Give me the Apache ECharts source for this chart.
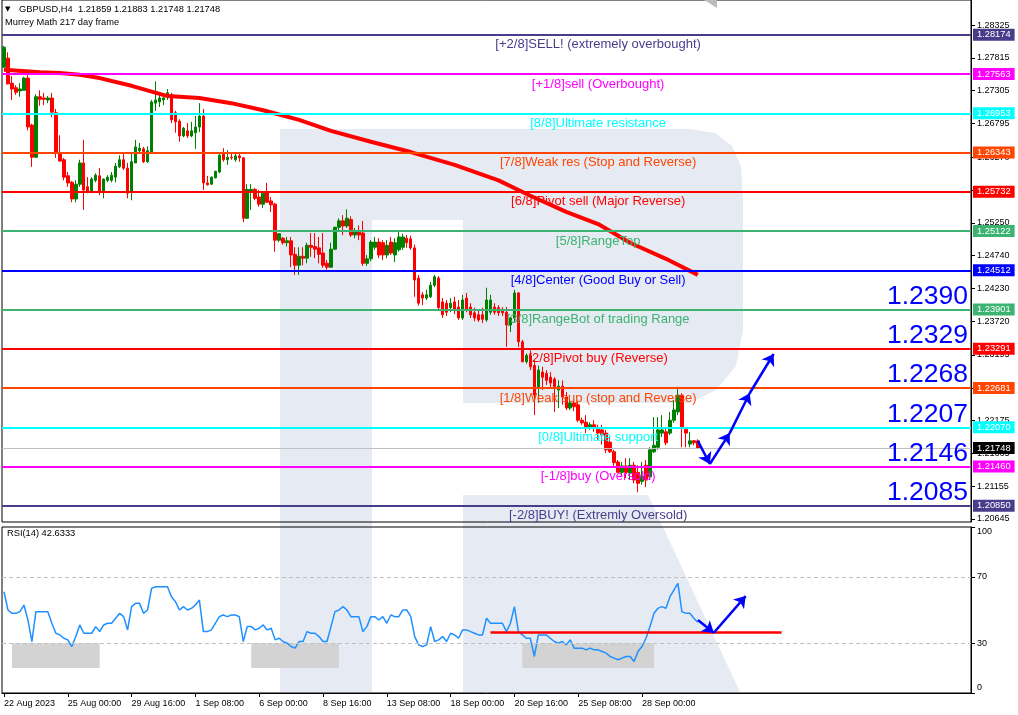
<!DOCTYPE html>
<html><head><meta charset="utf-8">
<script src="https://cdn.jsdelivr.net/npm/echarts@6/dist/echarts.min.js"></script>
<style>html,body{margin:0;padding:0;background:#fff}#c{width:1018px;height:715px}</style>
</head><body><div id="c"></div>
<script>
const headerText = 'GBPUSD,H4  1.21859 1.21883 1.21748 1.21748';
const indicatorTitle = 'Murrey Math 217 day frame';
const rsiTitle = 'RSI(14) 42.6333';

// H4 candles, 22 Aug 2023 08:00 onwards: [open, close, low, high]
const candles = [
[1.2767,1.2798,1.2766,1.2800],[1.2781,1.2741,1.2740,1.2790],[1.2742,1.2733,1.2716,1.2753],[1.2735,1.2728,1.2724,1.2739],
[1.2730,1.2733,1.2721,1.2742],[1.2731,1.2750,1.2731,1.2752],[1.2750,1.2674,1.2669,1.2763],[1.2677,1.2627,1.2612,1.2679],
[1.2627,1.2721,1.2626,1.2725],[1.2721,1.2717,1.2707,1.2731],[1.2719,1.2717,1.2708,1.2727],[1.2716,1.2719,1.2711,1.2722],
[1.2719,1.2697,1.2689,1.2727],[1.2696,1.2633,1.2626,1.2702],[1.2633,1.2621,1.2620,1.2661],[1.2623,1.2596,1.2591,1.2626],
[1.2598,1.2587,1.2581,1.2604],[1.2588,1.2562,1.2557,1.2590],[1.2562,1.2585,1.2557,1.2591],[1.2585,1.2618,1.2581,1.2623],
[1.2618,1.2576,1.2545,1.2654],[1.2581,1.2573,1.2571,1.2596],[1.2574,1.2593,1.2571,1.2596],[1.2591,1.2599,1.2588,1.2602],
[1.2598,1.2573,1.2568,1.2610],[1.2574,1.2593,1.2563,1.2594],[1.2591,1.2596,1.2588,1.2599],[1.2591,1.2599,1.2588,1.2604],
[1.2596,1.2613,1.2588,1.2618],[1.2612,1.2623,1.2610,1.2630],[1.2623,1.2610,1.2607,1.2633],[1.2610,1.2571,1.2563,1.2618],
[1.2573,1.2620,1.2560,1.2633],[1.2618,1.2643,1.2618,1.2654],[1.2637,1.2641,1.2633,1.2649],[1.2640,1.2620,1.2618,1.2643],
[1.2620,1.2637,1.2618,1.2644],[1.2635,1.2713,1.2634,1.2716],[1.2711,1.2716,1.2699,1.2745],[1.2713,1.2719,1.2705,1.2724],
[1.2716,1.2719,1.2708,1.2724],[1.2721,1.2727,1.2716,1.2733],[1.2724,1.2685,1.2680,1.2727],[1.2696,1.2682,1.2665,1.2699],
[1.2683,1.2660,1.2651,1.2686],[1.2660,1.2672,1.2658,1.2674],[1.2668,1.2660,1.2657,1.2680],[1.2660,1.2668,1.2658,1.2682],
[1.2665,1.2674,1.2640,1.2691],[1.2674,1.2691,1.2666,1.2711],[1.2691,1.2587,1.2576,1.2702],[1.2587,1.2584,1.2583,1.2598],
[1.2585,1.2596,1.2584,1.2597],[1.2595,1.2605,1.2594,1.2606],[1.2604,1.2630,1.2602,1.2632],[1.2633,1.2623,1.2620,1.2641],
[1.2623,1.2627,1.2615,1.2638],[1.2627,1.2626,1.2623,1.2632],[1.2623,1.2629,1.2620,1.2632],[1.2629,1.2626,1.2620,1.2633],
[1.2626,1.2532,1.2526,1.2627],[1.2532,1.2577,1.2531,1.2585],[1.2574,1.2577,1.2545,1.2585],[1.2577,1.2563,1.2560,1.2579],
[1.2565,1.2554,1.2550,1.2576],[1.2554,1.2571,1.2548,1.2574],[1.2573,1.2557,1.2556,1.2587],[1.2559,1.2553,1.2542,1.2565],
[1.2554,1.2498,1.2480,1.2556],[1.2498,1.2508,1.2495,1.2509],[1.2501,1.2494,1.2491,1.2503],[1.2494,1.2497,1.2488,1.2503],
[1.2497,1.2475,1.2456,1.2503],[1.2476,1.2459,1.2444,1.2487],[1.2459,1.2473,1.2444,1.2487],[1.2473,1.2470,1.2459,1.2487],
[1.2470,1.2490,1.2462,1.2494],[1.2490,1.2487,1.2472,1.2509],[1.2488,1.2484,1.2470,1.2509],[1.2486,1.2476,1.2462,1.2503],
[1.2478,1.2459,1.2455,1.2509],[1.2462,1.2456,1.2452,1.2467],[1.2456,1.2484,1.2455,1.2494],[1.2484,1.2518,1.2483,1.2519],
[1.2518,1.2528,1.2512,1.2532],[1.2528,1.2520,1.2506,1.2537],[1.2520,1.2532,1.2517,1.2546],[1.2530,1.2506,1.2503,1.2535],
[1.2506,1.2511,1.2501,1.2517],[1.2511,1.2506,1.2498,1.2521],[1.2509,1.2462,1.2458,1.2528],[1.2462,1.2469,1.2458,1.2475],
[1.2469,1.2495,1.2465,1.2498],[1.2487,1.2495,1.2483,1.2503],[1.2495,1.2475,1.2470,1.2501],[1.2494,1.2475,1.2467,1.2498],
[1.2475,1.2490,1.2470,1.2498],[1.2495,1.2478,1.2475,1.2503],[1.2475,1.2494,1.2464,1.2501],[1.2483,1.2503,1.2480,1.2511],
[1.2487,1.2503,1.2483,1.2508],[1.2501,1.2494,1.2486,1.2506],[1.2500,1.2486,1.2483,1.2505],[1.2486,1.2436,1.2410,1.2491],
[1.2439,1.2400,1.2396,1.2444],[1.2413,1.2408,1.2397,1.2417],[1.2408,1.2413,1.2405,1.2421],[1.2410,1.2428,1.2408,1.2433],
[1.2428,1.2441,1.2425,1.2444],[1.2439,1.2393,1.2389,1.2442],[1.2402,1.2382,1.2377,1.2408],[1.2400,1.2386,1.2380,1.2405],
[1.2393,1.2400,1.2386,1.2408],[1.2402,1.2389,1.2383,1.2410],[1.2394,1.2377,1.2374,1.2405],[1.2377,1.2405,1.2374,1.2413],
[1.2408,1.2389,1.2386,1.2416],[1.2394,1.2382,1.2377,1.2400],[1.2385,1.2377,1.2372,1.2393],[1.2382,1.2374,1.2371,1.2389],
[1.2382,1.2375,1.2369,1.2393],[1.2374,1.2405,1.2371,1.2424],[1.2386,1.2405,1.2382,1.2413],[1.2394,1.2386,1.2382,1.2400],
[1.2393,1.2385,1.2380,1.2397],[1.2389,1.2385,1.2380,1.2394],[1.2386,1.2366,1.2332,1.2394],[1.2366,1.2377,1.2355,1.2379],
[1.2377,1.2416,1.2371,1.2421],[1.2416,1.2340,1.2332,1.2417],[1.2340,1.2309,1.2308,1.2343],[1.2309,1.2319,1.2306,1.2322],
[1.2319,1.2301,1.2296,1.2327],[1.2303,1.2257,1.2226,1.2312],[1.2268,1.2296,1.2245,1.2303],[1.2293,1.2285,1.2265,1.2301],
[1.2291,1.2280,1.2273,1.2296],[1.2285,1.2276,1.2268,1.2293],[1.2282,1.2270,1.2231,1.2285],[1.2265,1.2271,1.2237,1.2280],
[1.2271,1.2254,1.2242,1.2280],[1.2254,1.2237,1.2234,1.2262],[1.2237,1.2245,1.2234,1.2251],[1.2245,1.2239,1.2232,1.2249],
[1.2242,1.2218,1.2215,1.2247],[1.2218,1.2214,1.2211,1.2222],[1.2215,1.2207,1.2198,1.2226],[1.2207,1.2211,1.2203,1.2215],
[1.2211,1.2206,1.2200,1.2218],[1.2204,1.2198,1.2187,1.2211],[1.2203,1.2195,1.2180,1.2211],[1.2198,1.2172,1.2167,1.2203],
[1.2184,1.2169,1.2167,1.2192],[1.2169,1.2152,1.2145,1.2172],[1.2153,1.2137,1.2136,1.2156],[1.2137,1.2147,1.2131,1.2153],
[1.2147,1.2137,1.2128,1.2159],[1.2136,1.2148,1.2125,1.2159],[1.2148,1.2125,1.2120,1.2153],[1.2137,1.2120,1.2106,1.2148],
[1.2123,1.2131,1.2118,1.2153],[1.2148,1.2125,1.2114,1.2156],[1.2130,1.2172,1.2125,1.2176],[1.2169,1.2179,1.2167,1.2223],
[1.2176,1.2203,1.2172,1.2223],[1.2198,1.2203,1.2192,1.2226],[1.2200,1.2183,1.2179,1.2206],[1.2198,1.2218,1.2195,1.2231],
[1.2218,1.2234,1.2214,1.2249],[1.2231,1.2257,1.2226,1.2270],[1.2257,1.2207,1.2176,1.2260],[1.2204,1.2198,1.2176,1.2207],
[1.2181,1.2186,1.2176,1.2200],[1.2186,1.2183,1.2179,1.2187],[1.21859,1.21748,1.21748,1.21883]
];
const futureBars = 68;

// RSI(14), one value per candle
const rsi = [
61,50,48,48,49,53,44,31,49,49,49,49,42,36,35,33,32,28,34,41,
36,36,36,40,37,41,42,42,45,48,46,38,52,54,54,48,50,63,64,64,
64,64,58,55,50,52,50,51,53,56,37,37,38,42,46,47,46,47,47,46,
31,40,40,38,39,41,38,39,32,33,31,30,28,27,31,31,37,36,36,34,
31,31,40,49,50,52,50,46,46,46,37,40,46,46,44,46,42,47,46,46,
50,50,46,34,29,28,29,40,31,32,34,31,36,35,33,38,38,37,36,35,
35,45,42,42,42,42,37,42,52,37,35,33,33,22,35,35,35,33,31,30,
31,29,32,27,27,27,26,27,26,26,25,24,22,21,20,21,22,22,19,25,
28,33,40,48,51,52,51,58,62,66,49,48,48,45,42.6
];

// moving average (bar index, price) read at its bends
const maPoints = [[0,1.2763],[9,1.2759],[14,1.2758],[19,1.2755],[24,1.2750],[32,1.2738],[41,1.2722],[49,1.2719],
[57,1.2711],[65,1.2700],[74,1.2685],[82,1.2668],[92,1.2651],[102,1.2635],[113,1.2615],[124,1.2591],[132,1.2567],
[141,1.2542],[149,1.2523],[157,1.2494],[166,1.2469],[174,1.2444]];

const levelValues = [1.28174,1.27563,1.26953,1.26343,1.25732,1.25122,1.24512,1.23901,1.23291,1.22681,1.22070,1.21460,1.20850];
const levelNames = ['[+2/8]SELL! (extremely overbought)','[+1/8]sell (Overbought)','[8/8]Ultimate resistance',
'[7/8]Weak res (Stop and Reverse)','[6/8]Pivot sell (Major Reverse)','[5/8]RangeTop','[4/8]Center (Good Buy or Sell)',
'[3/8]RangeBot of trading Range','[2/8]Pivot buy (Reverse)','[1/8]Weak sup (stop and Reverse)','[0/8]Ultimate support',
'[-1/8]buy (Oversold)','[-2/8]BUY! (Extremly Oversold)'];
const levelColors = ['#483D8B','#FF00FF','#00FFFF','#FF4500','#FF0000','#3CB371','#0000FF','#3CB371','#FF0000','#FF4500','#00FFFF','#FF00FF','#483D8B'];
const bigLabels = ['1.2390','1.2329','1.2268','1.2207','1.2146','1.2085'];
const bigLabelLevels = [1.23901,1.23291,1.22681,1.22070,1.21460,1.20850];
const currentPrice = 1.21748;

const priceTicks = [1.28325,1.27815,1.27305,1.26795,1.26270,1.25760,1.25250,1.24740,1.24230,1.23720,1.23195,1.22685,1.22175,1.21665,1.21155,1.20645];
const rsiTicks = [0,30,70,100];
const rsiLevels = [70,30];
const timeLabels = ['22 Aug 2023','25 Aug 00:00','29 Aug 16:00','1 Sep 08:00','6 Sep 00:00','8 Sep 16:00','13 Sep 08:00','18 Sep 00:00','20 Sep 16:00','25 Sep 08:00','28 Sep 00:00'];
const timeLabelStep = 16;

const priceArrowPts = [[174,1.2186],[177,1.2150],[182,1.2198],[187,1.2260],[193,1.2321]];
const rsiArrowPts = [[174,44],[178,36.3],[186,58.4]];
const rsiSupport = [[122,36.3],[195,36.3]];
const rsiZones = [[2,24],[62,84],[130,163]];
const rsiZoneRange = [30,15];

// ---------- layout / style ----------
const FONT = "'Liberation Sans', Arial, sans-serif";
const N = candles.length + futureBars;
const cats = Array.from({length: N}, (_, i) => String(i));
const levelTextIdx = 149;
const priceMin = 1.20598, priceMax = 1.28714;

const chart = echarts.init(document.getElementById('c'));

const tickFn = (idx) => idx % timeLabelStep === 0 && idx / timeLabelStep < timeLabels.length;

const boxLabel = (v, bg) => ({show: true, position: 'end', distance: 2, formatter: v.toFixed(5), backgroundColor: bg,
  color: '#fff', padding: [2, 4, 1, 4], fontSize: 9.3, fontFamily: FONT});
const levelLines = levelValues.map((v, k) => ({
  yAxis: v,
  lineStyle: {color: levelColors[k], width: 2, type: 'solid'},
  label: boxLabel(v, levelColors[k])
}));
levelLines.push({
  yAxis: currentPrice,
  lineStyle: {color: '#C0C0C0', width: 1, type: 'solid'},
  label: boxLabel(currentPrice, '#000')
});

const levelTexts = levelNames.map((t, k) => ({
  coord: [levelTextIdx, levelValues[k]],
  label: {formatter: t, color: levelColors[k], fontSize: 13, offset: [0, 10]}
}));
const bigTexts = bigLabels.map((t, k) => ({
  coord: [N - 1, bigLabelLevels[k]],
  label: {formatter: t, color: '#0000FF', fontSize: 26.5, align: 'right', offset: [-1, -13]}
}));

function segs(pts) {
  const out = [];
  for (let k = 0; k < pts.length - 1; k++) out.push([{coord: pts[k]}, {coord: pts[k + 1]}]);
  return out;
}

const wm = '#E6EBF3';
const option = {
  animation: false,
  backgroundColor: '#fff',
  graphic: [
    {type: 'polygon', z: -10, shape: {points: [[280,129],[690,129],[715,133],[732,146],[741,166],[743,200],[743,330],[736,366],[716,390],[690,403],[463,403],[463,220],[372,220],[372,692],[280,692]]}, style: {fill: wm}},
    {type: 'polygon', z: -10, shape: {points: [[463,495],[648,495],[740,692],[463,692]]}, style: {fill: wm}},
    {type: 'text', left: 5, top: 6, z: 100, style: {text: '▼', fontSize: 7, fill: '#000', fontFamily: "'DejaVu Sans'"}},
    {type: 'text', left: 19, top: 5, z: 100, style: {text: headerText, fontSize: 9.3, fill: '#000', fontFamily: FONT}},
    {type: 'text', left: 5, top: 18, z: 100, style: {text: indicatorTitle, fontSize: 9.3, fill: '#000', fontFamily: FONT}},
    {type: 'text', left: 7, top: 529, z: 100, style: {text: rsiTitle, fontSize: 9.3, fill: '#000', fontFamily: FONT}},
    {type: 'polygon', z: 100, shape: {points: [[704,0],[717,0],[717,8]]}, style: {fill: '#BDBDBD'}}
  ],
  grid: [
    {left: 2, right: 47, top: 0, height: 522, show: true, borderColor: '#000', borderWidth: 1},
    {left: 2, right: 47, top: 527, height: 166, show: true, borderColor: '#000', borderWidth: 1}
  ],
  xAxis: [
    {type: 'category', gridIndex: 0, data: cats, show: false},
    {type: 'category', gridIndex: 1, data: cats,
     axisLine: {show: true, lineStyle: {color: '#000', width: 1}},
     axisTick: {show: true, alignWithLabel: true, interval: tickFn, length: 4, lineStyle: {color: '#000'}},
     axisLabel: {show: true, interval: tickFn, align: 'left', margin: 6, color: '#000', fontSize: 9, fontFamily: FONT,
                 formatter: (v, idx) => timeLabels[Math.round(idx / timeLabelStep)] || ''},
     splitLine: {show: false}}
  ],
  yAxis: [
    {type: 'value', gridIndex: 0, position: 'right', min: priceMin, max: priceMax,
     axisLine: {show: true, lineStyle: {color: '#000'}},
     axisTick: {show: true, length: 4, customValues: priceTicks, lineStyle: {color: '#000'}},
     axisLabel: {show: true, customValues: priceTicks, margin: 6, color: '#000', fontSize: 9, fontFamily: FONT,
                 formatter: v => v.toFixed(5)},
     splitLine: {show: false}},
    {type: 'value', gridIndex: 1, position: 'right', min: 0, max: 100,
     axisLine: {show: true, lineStyle: {color: '#000'}},
     axisTick: {show: true, length: 4, customValues: rsiTicks, lineStyle: {color: '#000'}},
     axisLabel: {show: true, customValues: rsiTicks, margin: 6, color: '#000', fontSize: 9, fontFamily: FONT,
                 formatter: v => v === 100 ? '{t|100}' : (v === 0 ? '{b|0}' : String(v)),
                 rich: {t: {padding: [10, 0, 0, 0], fontSize: 9, fontFamily: FONT, color: '#000'},
                        b: {padding: [0, 0, 10, 0], fontSize: 9, fontFamily: FONT, color: '#000'}}},
     splitLine: {show: false}}
  ],
  series: [
    {type: 'line', name: 'levels', xAxisIndex: 0, yAxisIndex: 0, data: [[0, levelValues[0]]], symbol: 'none',
     clip: false, silent: true, lineStyle: {width: 0},
     markLine: {symbol: ['none', 'none'], precision: 5, silent: true, animation: false, data: levelLines},
     markPoint: {symbol: 'circle', symbolSize: 1, precision: 5, itemStyle: {color: 'rgba(0,0,0,0)'}, silent: true,
                 label: {show: true, position: 'inside', fontFamily: FONT},
                 data: levelTexts.concat(bigTexts)}},
    {type: 'candlestick', name: 'GBPUSD', xAxisIndex: 0, yAxisIndex: 0, data: candles, barWidth: 3,
     itemStyle: {color: '#008000', color0: '#FF0000', borderColor: '#008000', borderColor0: '#FF0000', borderWidth: 1}},
    {type: 'line', name: 'MA', xAxisIndex: 0, yAxisIndex: 0, data: maPoints, symbol: 'none',
     lineStyle: {color: '#FF0000', width: 4}},
    {type: 'line', name: 'arrows', xAxisIndex: 0, yAxisIndex: 0, data: [], clip: false,
     markLine: {symbol: ['none', 'arrow'], symbolSize: 11, precision: 5, silent: true, label: {show: false},
                lineStyle: {color: '#0000FF', width: 2.5, type: 'solid'}, data: segs(priceArrowPts)}},
    {type: 'line', name: 'RSI', xAxisIndex: 1, yAxisIndex: 1, data: rsi, symbol: 'none',
     lineStyle: {color: '#1E90FF', width: 1.5},
     markLine: {symbol: ['none', 'none'], silent: true, label: {show: false},
                data: rsiLevels.map(v => ({yAxis: v, lineStyle: {color: '#C0C0C0', width: 1, type: [4, 3]}}))},
     markArea: {silent: true, itemStyle: {color: '#D3D3D3'},
                data: rsiZones.map(z => [{coord: [z[0], rsiZoneRange[0]]}, {coord: [z[1], rsiZoneRange[1]]}])}},
    {type: 'line', name: 'rsiSupport', xAxisIndex: 1, yAxisIndex: 1, data: [], clip: false,
     markLine: {symbol: ['none', 'none'], precision: 3, silent: true, label: {show: false},
                lineStyle: {color: '#FF0000', width: 2.5, type: 'solid'}, data: segs(rsiSupport)}},
    {type: 'line', name: 'rsiArrows', xAxisIndex: 1, yAxisIndex: 1, data: [], clip: false,
     markLine: {symbol: ['none', 'arrow'], symbolSize: 11, precision: 3, silent: true, label: {show: false},
                lineStyle: {color: '#0000FF', width: 2.5, type: 'solid'}, data: segs(rsiArrowPts)}}
  ]
};
chart.setOption(option);
</script>
</body></html>
